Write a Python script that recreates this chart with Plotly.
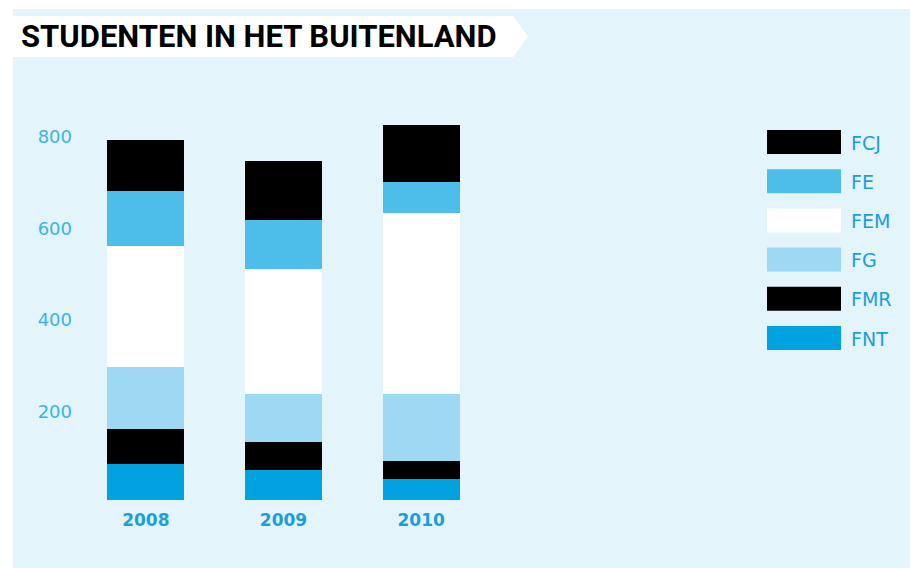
import plotly.graph_objects as go

# Students abroad per faculty, by year
years = ["2008", "2009", "2010"]
series = ["FNT", "FMR", "FG", "FEM", "FE", "FCJ"]   # bottom to top
values = {
    "FNT": [78, 66, 46],
    "FMR": [77, 60, 39],
    "FG":  [135, 105, 146],
    "FEM": [266, 275, 396],
    "FE":  [119, 106, 69],
    "FCJ": [113, 130, 123],
}
colors = {
    "FCJ": "#000000",
    "FE": "#4dbde9",
    "FEM": "#ffffff",
    "FG": "#9dd9f3",
    "FMR": "#000000",
    "FNT": "#00a3e0",
}
legend_order = ["FCJ", "FE", "FEM", "FG", "FMR", "FNT"]
y_ticks = [200, 400, 600, 800]
y_max = 830

W, H = 910, 568
PANEL = "#e3f4fb"
TICK_BLUE = "#3cb3e6"
LABEL_BLUE = "#1b9fdc"

def px_x(p):
    return p / W

def px_y(p):
    return (H - p) / H

fig = go.Figure()
for name in series:
    fig.add_trace(go.Bar(
        x=years, y=values[name], name=name,
        marker=dict(color=colors[name], line=dict(width=0)),
        showlegend=False,
    ))

shapes = [
    # light blue panel
    dict(type="rect", xref="paper", yref="paper", layer="below",
         x0=px_x(13), x1=1.0, y0=0.0, y1=px_y(9),
         fillcolor=PANEL, line=dict(width=0)),
    # white title banner with arrow tip
    dict(type="path", xref="paper", yref="paper", layer="below",
         path=(f"M {px_x(0)} {px_y(16)} L {px_x(513)} {px_y(16)} "
               f"L {px_x(528)} {px_y(36.5)} L {px_x(513)} {px_y(57)} "
               f"L {px_x(0)} {px_y(57)} Z"),
         fillcolor="#ffffff", line=dict(width=0)),
]
annotations = [
    dict(text="<b>STUDENTEN IN HET BUITENLAND</b>", xref="paper", yref="paper",
         x=px_x(19), y=px_y(37), xanchor="left", yanchor="middle",
         showarrow=False,
         font=dict(family="Roboto", size=31, color="#000000")),
]

# legend swatches and labels
for i, name in enumerate(legend_order):
    top = 130 + i * 39.2
    shapes.append(dict(type="rect", xref="paper", yref="paper",
                       x0=px_x(767), x1=px_x(841), y0=px_y(top + 24), y1=px_y(top),
                       fillcolor=colors[name], line=dict(width=0)))
    annotations.append(dict(text=name, xref="paper", yref="paper",
                            x=px_x(849), y=px_y(top + 12.5),
                            xanchor="left", yanchor="middle", showarrow=False,
                            font=dict(family="DejaVu Sans", size=19, color=LABEL_BLUE)))

plot_left, plot_right = 77, 490
zero_px, top_px = 500, 500 - y_max * 0.4573

fig.update_layout(
    width=W, height=H,
    margin=dict(l=0, r=0, t=0, b=0),
    paper_bgcolor="#ffffff",
    plot_bgcolor="rgba(0,0,0,0)",
    barmode="stack",
    bargap=0.442,
    shapes=shapes,
    annotations=annotations,
    xaxis=dict(
        domain=[px_x(plot_left), px_x(plot_right)],
        range=[-0.5, 2.5], showgrid=False, zeroline=False, showline=False,
        ticks="", ticklabelstandoff=8,
        tickfont=dict(family="DejaVu Sans", size=17, color=LABEL_BLUE, weight="bold"),
    ),
    yaxis=dict(
        domain=[px_y(zero_px), px_y(top_px)],
        range=[0, y_max], showgrid=False, zeroline=False, showline=False,
        tickvals=y_ticks, ticktext=[str(v) for v in y_ticks], ticks="",
        ticklabelstandoff=4, ticklabelshift=3,
        tickfont=dict(family="DejaVu Sans", size=18, color=TICK_BLUE),
    ),
)

fig.write_html("out.html")
